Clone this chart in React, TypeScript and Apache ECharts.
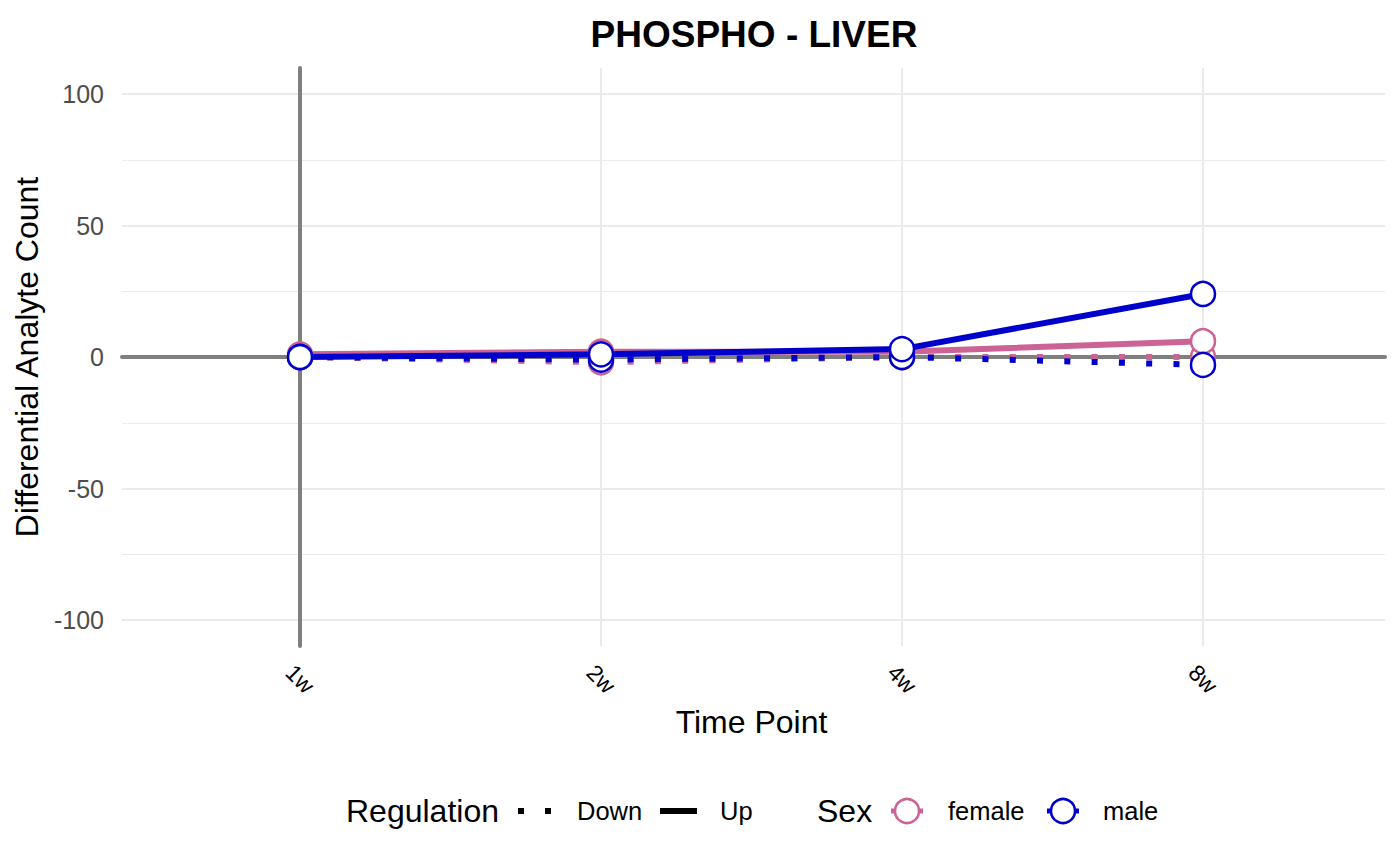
import React, { useEffect, useRef } from "react";
import * as echarts from "echarts";

const timePoints = ["1w", "2w", "4w", "8w"];
const upFemale = [1, 2, 2, 6];
const upMale = [0, 1, 3, 24];
const downFemale = [0, -2, 0, 0];
const downMale = [0, -1, 0, -3];
const yTicks = [-100, -50, 0, 50, 100];

const FEMALE = "#CC6394";
const MALE = "#0000CD";
const GRAY = "#7F7F7F";
const GRID = "#EBEBEB";
const FONT = "'Liberation Sans', Arial, Helvetica, sans-serif";

export default function App() {
  const ref = useRef<HTMLDivElement>(null);
  useEffect(() => {
    if (!ref.current) return;
    const chart = echarts.init(ref.current, undefined, { renderer: "svg" });
    const lineSeries = (name: string, data: number[], color: string, dotted: boolean) => ({
      name,
      type: "line",
      xAxisIndex: 1,
      yAxisIndex: 1,
      data,
      showSymbol: false,
      symbol: "none",
      z: 2,
      lineStyle: { color, width: 6, type: dotted ? [6, 21.3] : "solid", cap: "butt" },
    });
    const pointSeries = (name: string, data: number[], color: string) => ({
      name,
      type: "scatter",
      xAxisIndex: 1,
      yAxisIndex: 1,
      data,
      symbol: "circle",
      symbolSize: 24,
      z: 3,
      itemStyle: { color: "#FFFFFF", borderColor: color, borderWidth: 2.5, opacity: 1 },
    });
    const legendY = 811;
    const legendText = (text: string, x: number, size: number) => ({
      type: "text",
      x,
      y: legendY,
      style: { text, fontSize: size, fontFamily: FONT, fill: "#000", verticalAlign: "middle", align: "left" },
    });
    const sexKey = (cx: number, color: string) => ({
      type: "group",
      children: [
        { type: "line", shape: { x1: cx - 16, y1: legendY, x2: cx + 16, y2: legendY }, style: { stroke: color, lineWidth: 5 } },
        { type: "circle", shape: { cx, cy: legendY, r: 12 }, style: { fill: "#fff", stroke: color, lineWidth: 2.5 } },
      ],
    });
    const option: any = {
      animation: false,
      backgroundColor: "#FFFFFF",
      textStyle: { fontFamily: FONT },
      title: {
        text: "PHOSPHO - LIVER",
        left: 749,
        top: 11,
        textAlign: "center",
        textStyle: { fontSize: 37, fontWeight: "bold", color: "#000", fontFamily: FONT },
      },
      grid: [
        { left: 122, right: 15, top: 94, bottom: 245 },
        { left: 300, right: 197, top: 68, bottom: 219 },
      ],
      xAxis: [
        {
          gridIndex: 0,
          type: "value",
          min: 0,
          max: 1,
          z: 1,
          axisLabel: { show: false },
          axisTick: { show: false },
          splitLine: { show: false },
          axisLine: { show: true, onZero: true, lineStyle: { color: GRAY, width: 4 } },
        },
        {
          gridIndex: 1,
          type: "category",
          data: timePoints,
          boundaryGap: false,
          z: 0,
          axisLine: { show: false },
          axisTick: { show: false },
          splitLine: { show: true, lineStyle: { color: GRID, width: 2 } },
          axisLabel: {
            rotate: -45,
            fontSize: 23,
            color: "#000",
            fontFamily: FONT,
            margin: 33,
            interval: 0,
            align: "center",
            verticalAlign: "middle",
          },
          name: "Time Point",
          nameLocation: "middle",
          nameGap: 60,
          nameTextStyle: { fontSize: 32, color: "#000", fontFamily: FONT },
        },
      ],
      yAxis: [
        {
          gridIndex: 0,
          type: "value",
          min: yTicks[0],
          max: yTicks[yTicks.length - 1],
          interval: 50,
          z: 0,
          axisLine: { show: false },
          axisTick: { show: false },
          axisLabel: { fontSize: 25, color: "#4D4D4D", margin: 18, fontFamily: FONT },
          splitLine: { show: true, lineStyle: { color: GRID, width: 2 } },
          minorTick: { show: false, splitNumber: 2 },
          minorSplitLine: { show: true, lineStyle: { color: GRID, width: 1.2 } },
          name: "Differential Analyte Count",
          nameLocation: "middle",
          nameGap: 79,
          nameTextStyle: { fontSize: 32, color: "#000", fontFamily: FONT },
        },
        {
          gridIndex: 1,
          type: "value",
          min: -110,
          max: 110,
          z: 1,
          axisLabel: { show: false },
          axisTick: { show: false },
          splitLine: { show: false },
          axisLine: { show: true, lineStyle: { color: GRAY, width: 4 } },
        },
      ],
      series: [
        lineSeries("female Down", downFemale, FEMALE, true),
        lineSeries("female Up", upFemale, FEMALE, false),
        lineSeries("male Down", downMale, MALE, true),
        lineSeries("male Up", upMale, MALE, false),
        pointSeries("female Down pts", downFemale, FEMALE),
        pointSeries("female Up pts", upFemale, FEMALE),
        pointSeries("male Down pts", downMale, MALE),
        pointSeries("male Up pts", upMale, MALE),
      ],
      graphic: [
        legendText("Regulation", 346, 32),
        { type: "rect", shape: { x: 518, y: legendY - 3, width: 6, height: 6 }, style: { fill: "#000" } },
        { type: "rect", shape: { x: 545, y: legendY - 3, width: 6, height: 6 }, style: { fill: "#000" } },
        legendText("Down", 577, 25.5),
        { type: "line", shape: { x1: 660, y1: legendY, x2: 697, y2: legendY }, style: { stroke: "#000", lineWidth: 6 } },
        legendText("Up", 720, 25.5),
        legendText("Sex", 817, 32),
        sexKey(907, FEMALE),
        legendText("female", 948, 25.5),
        sexKey(1063, MALE),
        legendText("male", 1103, 25.5),
      ],
    };
    chart.setOption(option);
    return () => chart.dispose();
  }, []);
  return <div ref={ref} style={{ position: "fixed", left: 0, top: 0, width: 1400, height: 865 }} />;
}
